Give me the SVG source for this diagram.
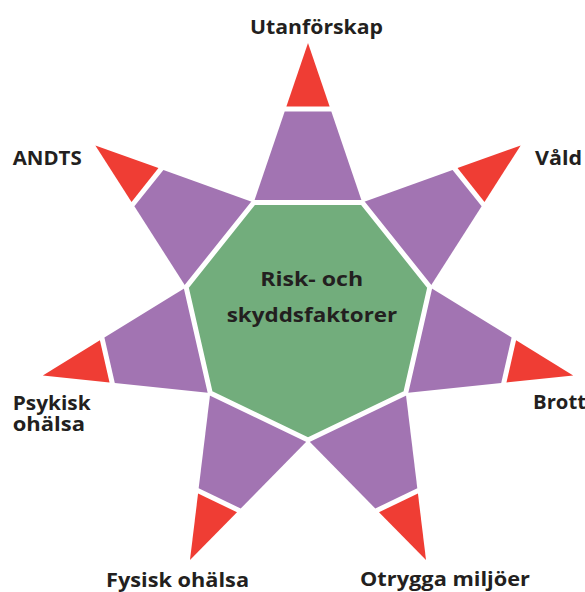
<svg xmlns="http://www.w3.org/2000/svg" width="585" height="592" viewBox="0 0 585 592">
<style>
.arm{fill:#A274B2}
.tip{fill:#EF3D34}
.core{fill:#72AD7C;stroke:#FFFFFF;stroke-width:5;stroke-linejoin:miter}
.lbl{font-family:"Open Sans","Liberation Sans",sans-serif;font-weight:700;font-size:20px;fill:#231F20}
.sm{font-size:19px}
</style>
<defs>
<polygon id="armShape" points="253.76,202.38 362.24,202.38 331.31,111.5 284.69,111.5"/>
<polygon id="tipShape" points="286.39,106.5 329.61,106.5 308,43"/>
</defs>
<rect width="585" height="592" fill="#FFFFFF"/>
<g id="connectors"></g>
<g id="arm-utanforskap">
<use href="#armShape" class="arm"/>
<use href="#tipShape" class="tip"/>
<text class="lbl" x="250" y="34" textLength="133" lengthAdjust="spacingAndGlyphs">Utanförskap</text>
</g>
<g id="arm-vald">
<g transform="rotate(51.4286 308 315)"><use href="#armShape" class="arm"/><use href="#tipShape" class="tip"/></g>
<text class="lbl" x="535" y="165" textLength="47" lengthAdjust="spacingAndGlyphs">Våld</text>
</g>
<g id="arm-brott">
<g transform="rotate(102.8571 308 315)"><use href="#armShape" class="arm"/><use href="#tipShape" class="tip"/></g>
<text class="lbl" x="533" y="408.5" textLength="53" lengthAdjust="spacingAndGlyphs">Brott</text>
</g>
<g id="arm-otrygga">
<g transform="rotate(154.2857 308 315)"><use href="#armShape" class="arm"/><use href="#tipShape" class="tip"/></g>
<text class="lbl" x="360" y="585.5" textLength="170" lengthAdjust="spacingAndGlyphs">Otrygga miljöer</text>
</g>
<g id="arm-fysisk">
<g transform="rotate(205.7143 308 315)"><use href="#armShape" class="arm"/><use href="#tipShape" class="tip"/></g>
<text class="lbl" x="106" y="586.5" textLength="143" lengthAdjust="spacingAndGlyphs">Fysisk ohälsa</text>
</g>
<g id="arm-psykisk">
<g transform="rotate(257.1429 308 315)"><use href="#armShape" class="arm"/><use href="#tipShape" class="tip"/></g>
<text class="lbl sm"><tspan x="12.7" y="409.5" textLength="78" lengthAdjust="spacingAndGlyphs">Psykisk</tspan><tspan x="12.7" y="430.5" textLength="72.3" lengthAdjust="spacingAndGlyphs">ohälsa</tspan></text>
</g>
<g id="arm-andts">
<g transform="rotate(308.5714 308 315)"><use href="#armShape" class="arm"/><use href="#tipShape" class="tip"/></g>
<text class="lbl" x="12.7" y="165" textLength="69" lengthAdjust="spacingAndGlyphs">ANDTS</text>
</g>
<g id="center">
<polygon class="core" points="253.76,202.38 362.24,202.38 429.87,287.18 405.73,392.94 308,440 210.27,392.94 186.13,287.18"/>
<text class="lbl" x="311.7" y="286" text-anchor="middle" textLength="103" lengthAdjust="spacingAndGlyphs">Risk- och</text>
<text class="lbl" x="312" y="321.5" text-anchor="middle" textLength="170.6" lengthAdjust="spacingAndGlyphs">skyddsfaktorer</text>
</g>
</svg>
